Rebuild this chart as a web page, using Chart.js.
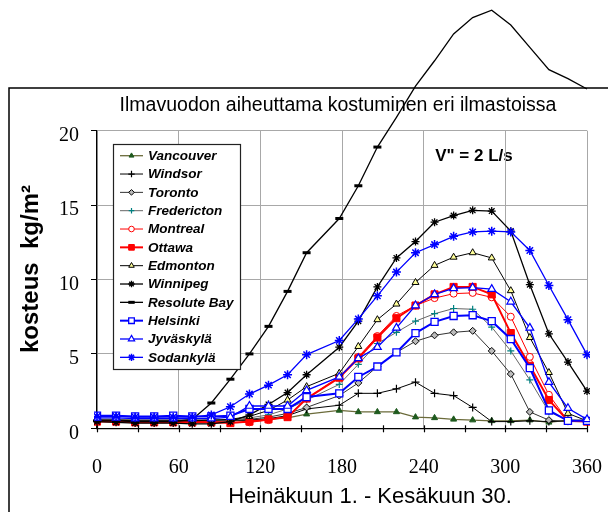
<!DOCTYPE html>
<html>
<head>
<meta charset="utf-8">
<script src="https://cdn.jsdelivr.net/npm/chart.js@4.4.0/dist/chart.umd.min.js"></script>
<style>
  html, body { margin: 0; padding: 0; background: #fff; }
  canvas { display: block; }
</style>
</head>
<body>
<canvas id="chart" width="608" height="512"></canvas>
<script>
// days from 1 July
const days = [0, 14, 28, 42, 56, 70, 84, 98, 112, 126, 140, 154, 178, 192, 206, 220, 234, 248, 262, 276, 290, 304, 318, 332, 346, 360];
const xTicks = [0, 60, 120, 180, 240, 300, 360];
const yTicks = [0, 5, 10, 15, 20];

const cities = ['Vancouver', 'Windsor', 'Toronto', 'Fredericton', 'Montreal', 'Ottawa', 'Edmonton', 'Winnipeg', 'Resolute Bay', 'Helsinki', 'Jyväskylä', 'Sodankylä'];

// kg/m2
const vancouver   = [0.6, 0.6, 0.55, 0.55, 0.55, 0.55, 0.55, 0.55, 0.55, 0.6, 0.7, 0.95, 1.2, 1.1, 1.1, 1.1, 0.75, 0.7, 0.6, 0.55, 0.5, 0.5, 0.55, 0.4, 0.55, 0.55];
const windsor     = [0.55, 0.5, 0.5, 0.5, 0.5, 0.5, 0.5, 0.5, 0.55, 0.65, 0.85, 1.3, 1.55, 2.35, 2.35, 2.65, 3.1, 2.35, 2.2, 1.4, 0.45, 0.45, 0.5, 0.45, 0.5, 0.5];
const toronto     = [0.5, 0.5, 0.45, 0.45, 0.45, 0.45, 0.5, 0.5, 0.6, 0.75, 1.0, 1.4, 2.2, 3.05, 4.15, 5.1, 5.85, 6.25, 6.45, 6.55, 5.2, 3.65, 1.1, 0.55, 0.45, 0.45];
const fredericton = [0.6, 0.6, 0.55, 0.55, 0.55, 0.55, 0.55, 0.55, 0.7, 0.9, 1.3, 1.9, 2.95, 4.3, 5.7, 6.45, 7.2, 7.7, 8.05, 8.0, 6.8, 5.2, 3.25, 1.1, 0.55, 0.5];
const montreal    = [0.5, 0.5, 0.45, 0.45, 0.45, 0.45, 0.45, 0.4, 0.4, 0.55, 0.8, 2.0, 3.45, 4.8, 6.2, 7.55, 8.25, 8.75, 9.05, 9.1, 8.8, 7.5, 4.8, 2.25, 0.5, 0.45];
const ottawa      = [0.45, 0.45, 0.4, 0.4, 0.4, 0.4, 0.4, 0.35, 0.45, 0.6, 0.75, 2.0, 3.4, 4.7, 6.1, 7.4, 8.25, 9.0, 9.5, 9.5, 9.0, 6.4, 4.2, 1.9, 0.5, 0.45];
const edmonton    = [0.55, 0.55, 0.5, 0.5, 0.5, 0.5, 0.55, 0.6, 0.8, 1.2, 1.9, 2.8, 3.7, 5.5, 7.3, 8.35, 9.8, 10.95, 11.5, 11.8, 11.45, 9.25, 6.1, 3.75, 1.0, 0.5];
const winnipeg    = [0.45, 0.4, 0.35, 0.35, 0.35, 0.3, 0.3, 0.45, 0.9, 1.6, 2.4, 3.6, 5.45, 7.2, 9.5, 11.45, 12.55, 13.85, 14.3, 14.65, 14.6, 13.25, 9.65, 6.35, 4.45, 2.5];
const resolute    = [0.5, 0.5, 0.45, 0.45, 0.45, 0.6, 1.7, 3.3, 5.0, 6.85, 9.2, 11.8, 14.1, 16.3, 18.9, 20.9, 23.0, 24.7, 26.5, 27.6, 28.1, 27.1, 25.6, 24.1, 23.5, 22.8];
const helsinki    = [0.85, 0.85, 0.8, 0.8, 0.85, 0.8, 0.8, 0.85, 1.3, 1.3, 1.3, 2.1, 2.35, 3.45, 4.15, 5.1, 6.4, 7.15, 7.55, 7.6, 7.2, 6.0, 4.05, 1.2, 0.5, 0.5];
const jyvaskyla   = [0.7, 0.7, 0.65, 0.65, 0.65, 0.65, 0.65, 0.75, 1.5, 1.5, 1.5, 2.55, 3.45, 4.7, 5.45, 6.75, 8.25, 9.0, 9.4, 9.45, 9.35, 8.5, 6.75, 3.1, 1.35, 0.6];
const sodankyla   = [0.8, 0.8, 0.75, 0.75, 0.75, 0.75, 0.9, 1.45, 2.3, 2.9, 3.6, 4.95, 5.9, 7.35, 8.9, 10.5, 11.8, 12.35, 12.9, 13.2, 13.25, 13.2, 11.95, 9.6, 7.3, 4.95];

const values = [vancouver, windsor, toronto, fredericton, montreal, ottawa, edmonton, winnipeg, resolute, helsinki, jyvaskyla, sodankyla];

const styles = [
  { line: '#6b6b3a', w: 1.3, pt: 'triangle', r: 3.5, fill: '#1e5a1e', edge: '#1e5a1e', pw: 1 },
  { line: '#000000', w: 1,   pt: 'cross',    r: 4,   fill: '#000000', edge: '#000000', pw: 1.2 },
  { line: '#333333', w: 1,   pt: 'rectRot',  r: 3.5, fill: '#bbbbbb', edge: '#000000', pw: 1 },
  { line: '#666666', w: 1,   pt: 'cross',    r: 3.5, fill: '#008080', edge: '#008080', pw: 1.2 },
  { line: '#ff0000', w: 1,   pt: 'circle',   r: 3.5, fill: '#ffffff', edge: '#ff0000', pw: 1 },
  { line: '#ff0000', w: 2,   pt: 'rect',     r: 5,   fill: '#ff0000', edge: '#ff0000', pw: 1 },
  { line: '#000000', w: 1,   pt: 'triangle', r: 4,   fill: '#ffff99', edge: '#000000', pw: 1 },
  { line: '#000000', w: 1.3, pt: 'star',     r: 4,   fill: '#000000', edge: '#000000', pw: 1.3 },
  { line: '#000000', w: 1.3, pt: 'line',     r: 4,   fill: '#000000', edge: '#000000', pw: 3 },
  { line: '#0000ff', w: 2,   pt: 'rect',     r: 5,   fill: '#ffffff', edge: '#0000ff', pw: 1.3 },
  { line: '#0000ff', w: 1.3, pt: 'triangle', r: 4.5, fill: '#ffffff', edge: '#0000ff', pw: 1.2 },
  { line: '#0000ff', w: 1.3, pt: 'star',     r: 4.5, fill: '#0000ff', edge: '#0000ff', pw: 1.5 }
];

const SANS = '"Liberation Sans", Arial, sans-serif';
const SERIF = '"Liberation Serif", "Times New Roman", serif';

const datasets = cities.map((name, k) => {
  const s = styles[k];
  return {
    label: name,
    data: days.map((d, i) => ({ x: d, y: values[k][i] })),
    borderColor: s.line,
    borderWidth: s.w,
    pointStyle: s.pt,
    // Resolute Bay runs off the top; no markers outside the plot
    pointRadius: c => (c.parsed && c.parsed.y > 20 ? 0 : s.r),
    pointBackgroundColor: s.fill,
    pointBorderColor: s.edge,
    pointBorderWidth: s.pw,
    tension: 0,
    clip: k === 8 ? false : 3,
    order: 20 - k
  };
});

const decor = {
  id: 'decor',
  beforeDraw(chart) {
    const ctx = chart.ctx;
    ctx.save();
    ctx.fillStyle = '#fff';
    ctx.fillRect(0, 0, chart.width, chart.height);
    // outer frame
    ctx.strokeStyle = '#000';
    ctx.lineWidth = 1.5;
    ctx.beginPath();
    ctx.moveTo(9, 512);
    ctx.lineTo(9, 88);
    ctx.lineTo(608, 88);
    ctx.stroke();

    ctx.fillStyle = '#000';
    ctx.textAlign = 'center';
    ctx.textBaseline = 'middle';
    ctx.font = '19.5px ' + SANS;
    ctx.fillText('Ilmavuodon aiheuttama kostuminen eri ilmastoissa', 338, 106);
    ctx.font = 'bold 17px ' + SANS;
    ctx.fillText('V" = 2 L/s', 474, 156);
    ctx.font = '22px ' + SANS;
    ctx.fillText('Heinäkuun 1. - Kesäkuun 30.', 370, 497);

    ctx.translate(31, 269);
    ctx.rotate(-Math.PI / 2);
    ctx.font = 'bold 24px ' + SANS;
    ctx.fillText('kosteus  kg/m²', 0, 0);
    ctx.restore();
  },
  afterDatasetsDraw(chart) {
    const ctx = chart.ctx;
    const xs = chart.scales.x;
    const bottom = chart.chartArea.bottom;
    ctx.save();
    // x tick marks cross the axis, every 30 days
    ctx.strokeStyle = '#000';
    ctx.lineWidth = 1.2;
    for (let v = 0; v <= 360; v += 30) {
      const px = Math.round(xs.getPixelForValue(v)) + 0.5;
      ctx.beginPath();
      ctx.moveTo(px, bottom - 3);
      ctx.lineTo(px, bottom + 4);
      ctx.stroke();
    }

    // legend box
    ctx.fillStyle = '#fff';
    ctx.fillRect(113, 144, 128, 225);
    ctx.strokeStyle = '#222';
    ctx.lineWidth = 1.2;
    ctx.strokeRect(113.5, 144.5, 127, 225);
    ctx.textAlign = 'left';
    ctx.textBaseline = 'middle';
    ctx.font = 'italic bold 13.5px ' + SANS;
    cities.forEach((name, k) => {
      const s = styles[k];
      const y = 155.7 + k * 18.33;
      ctx.strokeStyle = s.line;
      ctx.lineWidth = s.w;
      ctx.beginPath();
      ctx.moveTo(120, y);
      ctx.lineTo(143, y);
      ctx.stroke();
      ctx.fillStyle = s.fill;
      ctx.strokeStyle = s.edge;
      ctx.lineWidth = s.pw;
      Chart.helpers.drawPoint(ctx, { pointStyle: s.pt, rotation: 0, radius: s.r * 0.8, borderWidth: s.pw }, 131.5, y);
      ctx.fillStyle = '#000';
      ctx.fillText(name, 148, y + 0.5);
    });
    ctx.restore();
  }
};

new Chart(document.getElementById('chart'), {
  type: 'line',
  data: { datasets },
  options: {
    responsive: false,
    animation: false,
    events: [],
    layout: { padding: { top: 130.7, right: 21, bottom: 0, left: 0 } },
    plugins: { legend: { display: false }, tooltip: { enabled: false }, title: { display: false } },
    scales: {
      x: {
        type: 'linear',
        min: 0,
        max: 360,
        afterBuildTicks: scale => { scale.ticks = xTicks.map(v => ({ value: v })); },
        afterFit: scale => { scale.height = 83.7; },
        // tick marks are drawn by the decor plugin; this only spaces the labels
        grid: { color: '#a8a8a8', lineWidth: 1, drawTicks: true, tickLength: 27, tickColor: 'rgba(0,0,0,0)' },
        border: { color: '#000', width: 1.2 },
        ticks: { padding: 0, color: '#000', font: { family: SERIF, size: 20 }, maxRotation: 0, autoSkip: false }
      },
      y: {
        min: 0,
        max: 20,
        afterBuildTicks: scale => { scale.ticks = yTicks.map(v => ({ value: v })); },
        afterFit: scale => { scale.width = 97; },
        grid: { color: '#a8a8a8', lineWidth: 1, tickLength: 6, tickColor: '#000' },
        border: { color: '#000', width: 1.2 },
        ticks: { padding: 12, labelOffset: 5, color: '#000', font: { family: SERIF, size: 20 } }
      }
    }
  },
  plugins: [decor]
});
</script>
</body>
</html>
